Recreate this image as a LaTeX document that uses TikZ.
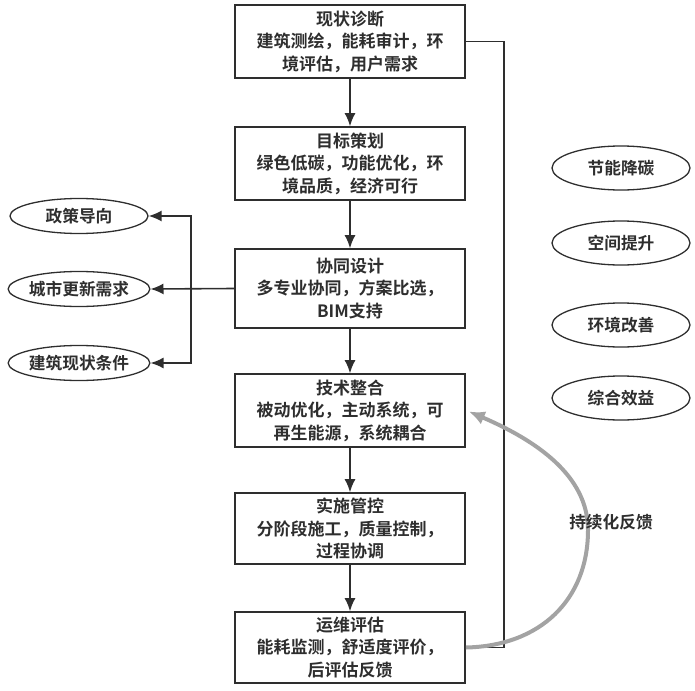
\documentclass[tikz,border=0pt]{standalone}
\usepackage{fontspec}
\setmainfont{Noto Sans CJK SC}[BoldFont={Noto Sans CJK SC Bold}]
\usetikzlibrary{arrows.meta,shapes.geometric,calc}
\definecolor{ink}{HTML}{2E2E2E}
\definecolor{fb}{HTML}{A3A3A3}
\tikzset{
  stepbox/.style={draw=ink,line width=1.6pt,minimum width=230pt,inner sep=0pt,align=center,
     font=\fontsize{17}{22.5}\selectfont\bfseries,text=ink},
  oval/.style={draw=ink,line width=1.3pt,ellipse,minimum width=138pt,inner sep=0pt,
     font=\fontsize{16.7}{20}\selectfont\bfseries,text=ink},
  arr/.style={draw=ink,line width=1.6pt,-{Latex[length=13pt,width=11pt]}},
  plain/.style={draw=ink,line width=1.4pt},
  fbarr/.style={draw=fb,line width=4pt,-{Latex[length=16pt,width=14pt]}}
}
\begin{document}
\begin{tikzpicture}[x=1pt,y=-1pt]
\useasboundingbox (0,0) rectangle (695,690);
\node[stepbox,minimum height=73pt] (b1) at (350,41.5) {现状诊断\\建筑测绘，能耗审计，环\\境评估，用户需求};
\node[stepbox,minimum height=73pt] (b2) at (350,163.5) {目标策划\\绿色低碳，功能优化，环\\境品质，经济可行};
\node[stepbox,minimum height=79pt] (b3) at (350,288.5) {协同设计\\多专业协同，方案比选，\\BIM支持};
\node[stepbox,minimum height=73pt] (b4) at (350,410.5) {技术整合\\被动优化，主动系统，可\\再生能源，系统耦合};
\node[stepbox,minimum height=71pt] (b5) at (350,528.5) {实施管控\\分阶段施工，质量控制，\\过程协调};
\node[stepbox,minimum height=71pt] (b6) at (350,647.5) {运维评估\\能耗监测，舒适度评价，\\后评估反馈};

\node[oval,minimum height=35pt] (e1) at (79,216) {政策导向};
\node[oval,minimum height=35pt] (e2) at (79,289) {城市更新需求};
\node[oval,minimum height=35pt] (e3) at (79,363) {建筑现状条件};

\node[oval,minimum height=44pt] (r1) at (621,168) {节能降碳};
\node[oval,minimum height=44pt] (r2) at (621,243) {空间提升};
\node[oval,minimum height=44pt] (r3) at (621,325) {环境改善};
\node[oval,minimum height=44pt] (r4) at (621,398) {综合效益};

\draw[arr] (b1) -- (b2);
\draw[arr] (b2) -- (b3);
\draw[arr] (b3) -- (b4);
\draw[arr] (b4) -- (b5);
\draw[arr] (b5) -- (b6);

\coordinate (jn) at (191,288.5);
\draw[arr] (b3.west) -- (e2.east);
\draw[arr] (jn) |- (e1.east);
\draw[arr] (jn) |- (e3.east);

\draw[plain] (b1.east) -- ++(38,0) coordinate (rt) |- (b6.east);

\draw[fbarr] (b6.east) .. controls (540,646) and (588,600) .. (588,530)
   .. controls (588,475) and (535,440) .. ($(b4.east)+(3,1)$);
\node[font=\fontsize{16.7}{20}\selectfont\bfseries,text=ink] (fl) at (611,522) {持续化反馈};
\end{tikzpicture}
\end{document}
